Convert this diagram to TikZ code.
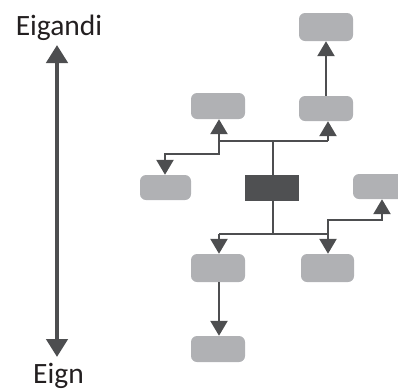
\documentclass[tikz,border=0pt]{standalone}
\usepackage{fontspec}
\setmainfont{Carlito}
\usetikzlibrary{arrows.meta}
\definecolor{boxgray}{HTML}{B0B1B4}
\definecolor{darkbox}{HTML}{4F5052}
\definecolor{linegray}{HTML}{4D4E50}
\definecolor{textcol}{HTML}{231F20}
\begin{document}
\begin{tikzpicture}[x=1pt,y=-1pt,
  lbox/.style={fill=boxgray,draw=none,rounded corners=6pt,minimum width=54pt,minimum height=26pt,inner sep=0pt},
  dbox/.style={fill=darkbox,draw=none,minimum width=54pt,minimum height=26pt,inner sep=0pt},
  conn/.style={draw=linegray,line width=2.4pt},
  arr/.style={conn,-{Triangle[length=15pt,width=17pt]}},
  big/.style={draw=linegray,line width=4.5pt,{Triangle[length=18pt,width=21pt]}-{Triangle[length=18pt,width=21pt]}},
  lab/.style={text=textcol,font=\fontsize{29.5}{32}\selectfont,inner sep=0pt}]
\useasboundingbox (0,0) rectangle (398,389);
% boxes
\node[lbox,minimum height=28pt] (t1) at (326,27) {};
\node[lbox,minimum height=25pt] (m2) at (326,108.5) {};
\node[lbox] (m1) at (218,106) {};
\node[lbox,minimum width=51pt,minimum height=25pt] (l1) at (165.5,187.5) {};
\node[dbox] (c) at (272,188) {};
\node[lbox,minimum height=25pt] (r1) at (380,186.5) {};
\node[lbox,minimum height=28pt] (b1) at (218,268) {};
\node[lbox,minimum width=53pt,minimum height=28pt] (b2) at (327.5,268) {};
\node[lbox] (b3) at (218,349) {};
% junctions
\coordinate (tj) at (273,141);
\coordinate (tl) at (219,141);
\coordinate (tr) at (328,141);
\coordinate (tlb) at (219,154);
\coordinate (tlc) at (165,154);
\coordinate (bj) at (273,234);
\coordinate (bl) at (219,234);
\coordinate (br) at (328,234);
\coordinate (brb) at (328,220);
\coordinate (brc) at (382,220);
% upper connectors
\draw[conn] (c.north -| tj) -- (tj);
\draw[conn] (tl) -- (tr);
\draw[arr] (tl) -- (tl |- m1.south);
\draw[arr] (tr) -- (tr |- m2.south);
\draw[arr] (tl) -- (tlb) -- (tlc) -- (tlc |- l1.north);
\draw[arr] (m2.north) -- (t1.south);
% lower connectors
\draw[conn] (c.south -| bj) -- (bj);
\draw[conn] (bl) -- (br);
\draw[arr] (bl) -- (bl |- b1.north);
\draw[arr] (br) -- (br |- b2.north);
\draw[arr] (br) -- (brb) -- (brc) -- (brc |- r1.south);
\draw[arr] (b1.south -| bl) -- (bl |- b3.north);
% left axis
\node[lab,anchor=base] (top) at (59,35) {Eigandi};
\node[lab,anchor=base] (bot) at (58.5,383) {Eign};
\coordinate (at) at (57,45);
\coordinate (ab) at (57,357);
\draw[big] (ab) -- (at);
\end{tikzpicture}
\end{document}
